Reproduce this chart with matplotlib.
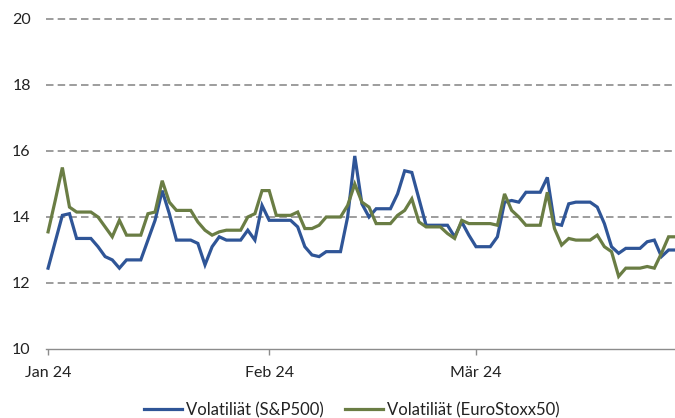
import matplotlib
matplotlib.use("Agg")
import matplotlib.pyplot as plt
import matplotlib.dates as mdates
import pandas as pd

start_date = "2024-01-01"
sp500 = [12.45, 13.25, 14.05, 14.1, 13.35, 13.35, 13.35, 13.1, 12.8, 12.7,
         12.45, 12.7, 12.7, 12.7, 13.3, 13.9, 14.8, 14.1, 13.3, 13.3,
         13.3, 13.2, 12.55, 13.1, 13.4, 13.3, 13.3, 13.3, 13.6, 13.3,
         14.35, 13.9, 13.9, 13.9, 13.9, 13.7, 13.1, 12.85, 12.8, 12.95,
         12.95, 12.95, 14.0, 15.85, 14.4, 14.0, 14.25, 14.25, 14.25, 14.7,
         15.4, 15.35, 14.55, 13.75, 13.75, 13.75, 13.75, 13.4, 13.85, 13.45,
         13.1, 13.1, 13.1, 13.4, 14.45, 14.5, 14.45, 14.75, 14.75, 14.75,
         15.2, 13.8, 13.75, 14.4, 14.45, 14.45, 14.45, 14.3, 13.8, 13.1,
         12.9, 13.05, 13.05, 13.05, 13.25, 13.3, 12.8, 13.0, 13.0]
eurostoxx = [13.55, 14.5, 15.5, 14.3, 14.15, 14.15, 14.15, 14.0, 13.7, 13.4,
             13.9, 13.45, 13.45, 13.45, 14.1, 14.15, 15.1, 14.45, 14.2, 14.2,
             14.2, 13.85, 13.6, 13.45, 13.55, 13.6, 13.6, 13.6, 14.0, 14.1,
             14.8, 14.8, 14.05, 14.05, 14.05, 14.15, 13.65, 13.65, 13.75, 14.0,
             14.0, 14.0, 14.35, 15.0, 14.45, 14.3, 13.8, 13.8, 13.8, 14.05,
             14.2, 14.55, 13.85, 13.7, 13.7, 13.7, 13.5, 13.35, 13.9, 13.8,
             13.8, 13.8, 13.8, 13.75, 14.7, 14.2, 14.0, 13.75, 13.75, 13.75,
             14.75, 13.65, 13.15, 13.35, 13.3, 13.3, 13.3, 13.45, 13.1, 12.95,
             12.2, 12.45, 12.45, 12.45, 12.5, 12.45, 12.9, 13.4, 13.4]
tick_dates = ["2024-01-01", "2024-02-01", "2024-03-01"]
tick_labels = ["Jan 24", "Feb 24", "Mär 24"]
y_ticks = [10, 12, 14, 16, 18, 20]
series_names = ["Volatiliät (S&P500)", "Volatiliät (EuroStoxx50)"]

plt.rcParams['font.family'] = ['Lato', 'DejaVu Sans']

dates = pd.date_range(start_date, periods=len(sp500), freq="D")

fig = plt.figure(figsize=(6.75, 4.18), dpi=100)
ax = fig.add_axes([46/675, 1-349/418, 1-46/675, (349-19)/418])

blue = "#2F5597"
green = "#6A7D44"
ax.plot(dates, sp500, color=blue, lw=2.3, label=series_names[0], solid_joinstyle="miter", zorder=3)
ax.plot(dates, eurostoxx, color=green, lw=2.3, label=series_names[1], solid_joinstyle="miter", zorder=3)

d0 = pd.Timestamp(start_date)
ax.set_xlim(d0 - pd.Timedelta(hours=7), d0 + pd.Timedelta(days=87.9))
ax.set_ylim(10, 20)
ax.set_yticks(y_ticks)
ax.set_yticklabels([str(v) for v in y_ticks])
ax.set_xticks([pd.Timestamp(t) for t in tick_dates])
ax.set_xticklabels(tick_labels)

for v in y_ticks[1:]:
    ax.axhline(v, color="#8c8c8c", lw=1.2, ls=(0, (4.5, 2.5)), zorder=1, clip_on=False)

for s in ["top", "right", "left"]:
    ax.spines[s].set_visible(False)
ax.spines["bottom"].set_color("#8c8c8c")
ax.spines["bottom"].set_linewidth(1.0)

ax.tick_params(axis="y", length=0, pad=11, labelsize=11.5, labelcolor="#222222")
ax.tick_params(axis="x", length=4, width=1.0, color="#8c8c8c", direction="out", pad=8,
               labelsize=11.5, labelcolor="#222222")

leg = fig.legend(loc="lower center", bbox_to_anchor=(0.521, -0.036), ncol=2, frameon=False,
                 fontsize=12, handlelength=2.3, handletextpad=0.2, columnspacing=1.3)
for t in leg.get_texts():
    t.set_color("#222222")

fig.savefig("out.png", dpi=100)
